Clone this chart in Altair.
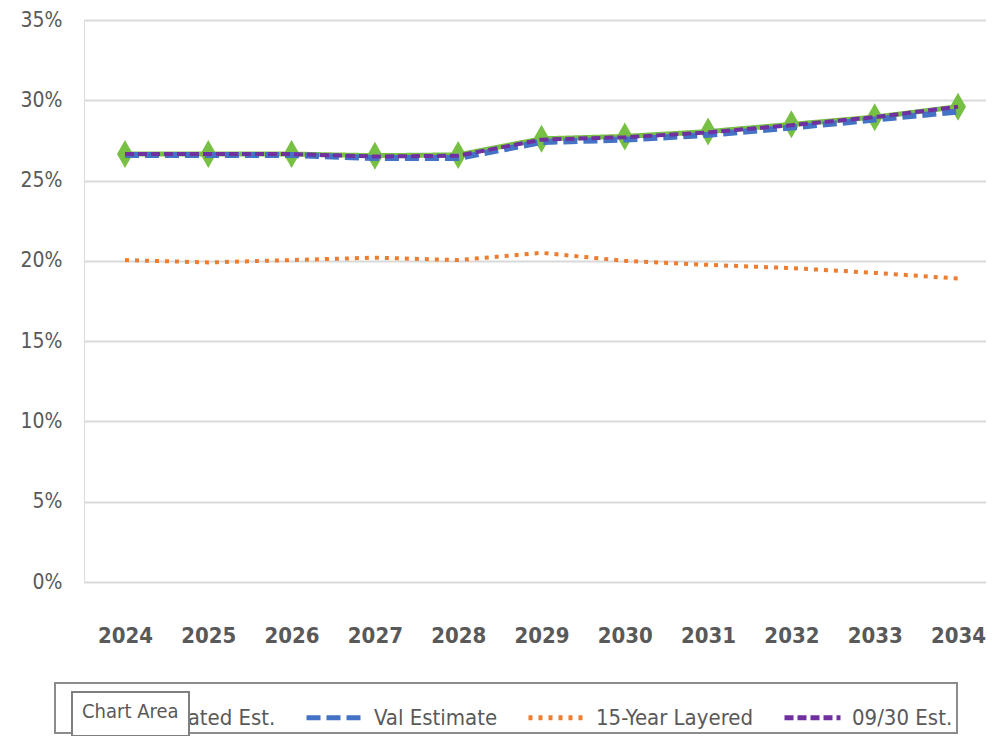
import altair as alt
import pandas as pd

years = list(range(2024, 2035))
series_names = ["Updated Est.", "Val Estimate", "15-Year Layered", "09/30 Est."]
updated = [26.65, 26.65, 26.65, 26.55, 26.6, 27.6, 27.75, 28.05, 28.5, 28.95, 29.6]
val_est = [26.6, 26.6, 26.6, 26.4, 26.4, 27.4, 27.55, 27.85, 28.3, 28.8, 29.3]
layered = [20.05, 19.9, 20.05, 20.2, 20.05, 20.5, 20.0, 19.75, 19.55, 19.25, 18.9]
sept_est = [26.65, 26.65, 26.65, 26.5, 26.55, 27.55, 27.7, 28.0, 28.45, 28.95, 29.6]
colors = ["#78C043", "#4472C4", "#ED7D31", "#7030A0"]
dashes = [[1, 0], [14, 6], [4, 6], [9, 4]]
y_ticks = [0, 0.05, 0.10, 0.15, 0.20, 0.25, 0.30, 0.35]
tip_label = ["Chart Area"]

rows = []
for name, vals in zip(series_names, [updated, val_est, layered, sept_est]):
    for yr, v in zip(years, vals):
        rows.append({"year": yr, "value": v / 100.0, "series": name})
df = pd.DataFrame(rows)

FONT = "DejaVu Sans Condensed, Roboto, sans-serif"
GREY = "#595959"

x = alt.X(
    "year:Q",
    scale=alt.Scale(domain=[2023.508, 2034.336], nice=False, zero=False),
    axis=alt.Axis(values=years, format="d", title=None, grid=False, ticks=False,
                  domain=False, labelFontSize=22, labelFontWeight="bold",
                  labelColor=GREY, labelPadding=43, labelFlush=False, labelFont=FONT),
)
y = alt.Y(
    "value:Q",
    scale=alt.Scale(domain=[0, 0.35], nice=False),
    axis=alt.Axis(values=y_ticks, format=".0%", title=None, ticks=False, domain=False,
                  gridColor="#d9d9d9", gridWidth=2, labelFontSize=21,
                  labelColor=GREY, labelPadding=22, labelFont=FONT),
)

legend_props = dict(
    title=None, orient="none", legendX=-29, legendY=663, direction="horizontal",
    columns=4, symbolType="stroke", symbolSize=3136, symbolStrokeWidth=5,
    symbolOffset=19, labelOffset=9, columnPadding=9, padding=4,
    labelFontSize=22, labelColor=GREY, labelFont=FONT, labelLimit=400,
    strokeColor="#8c8c8c", zindex=1,
)
color = alt.Color("series:N", scale=alt.Scale(domain=series_names, range=colors),
                  legend=alt.Legend(**legend_props))
dash = alt.StrokeDash("series:N", scale=alt.Scale(domain=series_names, range=dashes),
                      legend=alt.Legend(**legend_props))

base = alt.Chart(df).encode(x=x, y=y, color=color, strokeDash=dash)

green_line = base.transform_filter(alt.datum.series == series_names[0]).mark_line(strokeWidth=5)
green_pts = alt.Chart(df).transform_filter(alt.datum.series == series_names[0]).mark_point(
    filled=True, shape="M0,-1L0.57,0L0,1L-0.57,0Z", size=784, opacity=1
).encode(x=x, y=y, color=alt.value(colors[0]))
blue_line = base.transform_filter(alt.datum.series == series_names[1]).mark_line(strokeWidth=6)
orange_line = base.transform_filter(alt.datum.series == series_names[2]).mark_line(strokeWidth=4)
purple_line = base.transform_filter(alt.datum.series == series_names[3]).mark_line(strokeWidth=4)

tip = alt.Chart(pd.DataFrame({"tip": tip_label})).mark_point(opacity=0).encode(
    shape=alt.Shape("tip:N", legend=alt.Legend(
        title=tip_label[0], titleFontSize=20, titleFontWeight="normal",
        titleColor=GREY, titleFont=FONT, titlePadding=3,
        orient="none", legendX=-12, legendY=672, symbolSize=0.01, symbolStrokeWidth=0.01,
        symbolOpacity=0, labelOffset=0, labelFontSize=0.01, labelOpacity=0,
        labelExpr="''", padding=10,
        fillColor="white", strokeColor="#7f7f7f", zindex=2,
    ))
)

chart = alt.layer(green_line, green_pts, blue_line, orange_line, purple_line, tip).properties(
    width=902, height=562,
    autosize=alt.AutoSizeParams(type="none"),
    padding={"left": 76, "top": 12, "right": 0, "bottom": 154},
).configure_view(stroke=None).configure(font=FONT).configure_legend(strokeWidth=2)

chart.save("out.html", embed_options={"renderer": "svg", "actions": False})
